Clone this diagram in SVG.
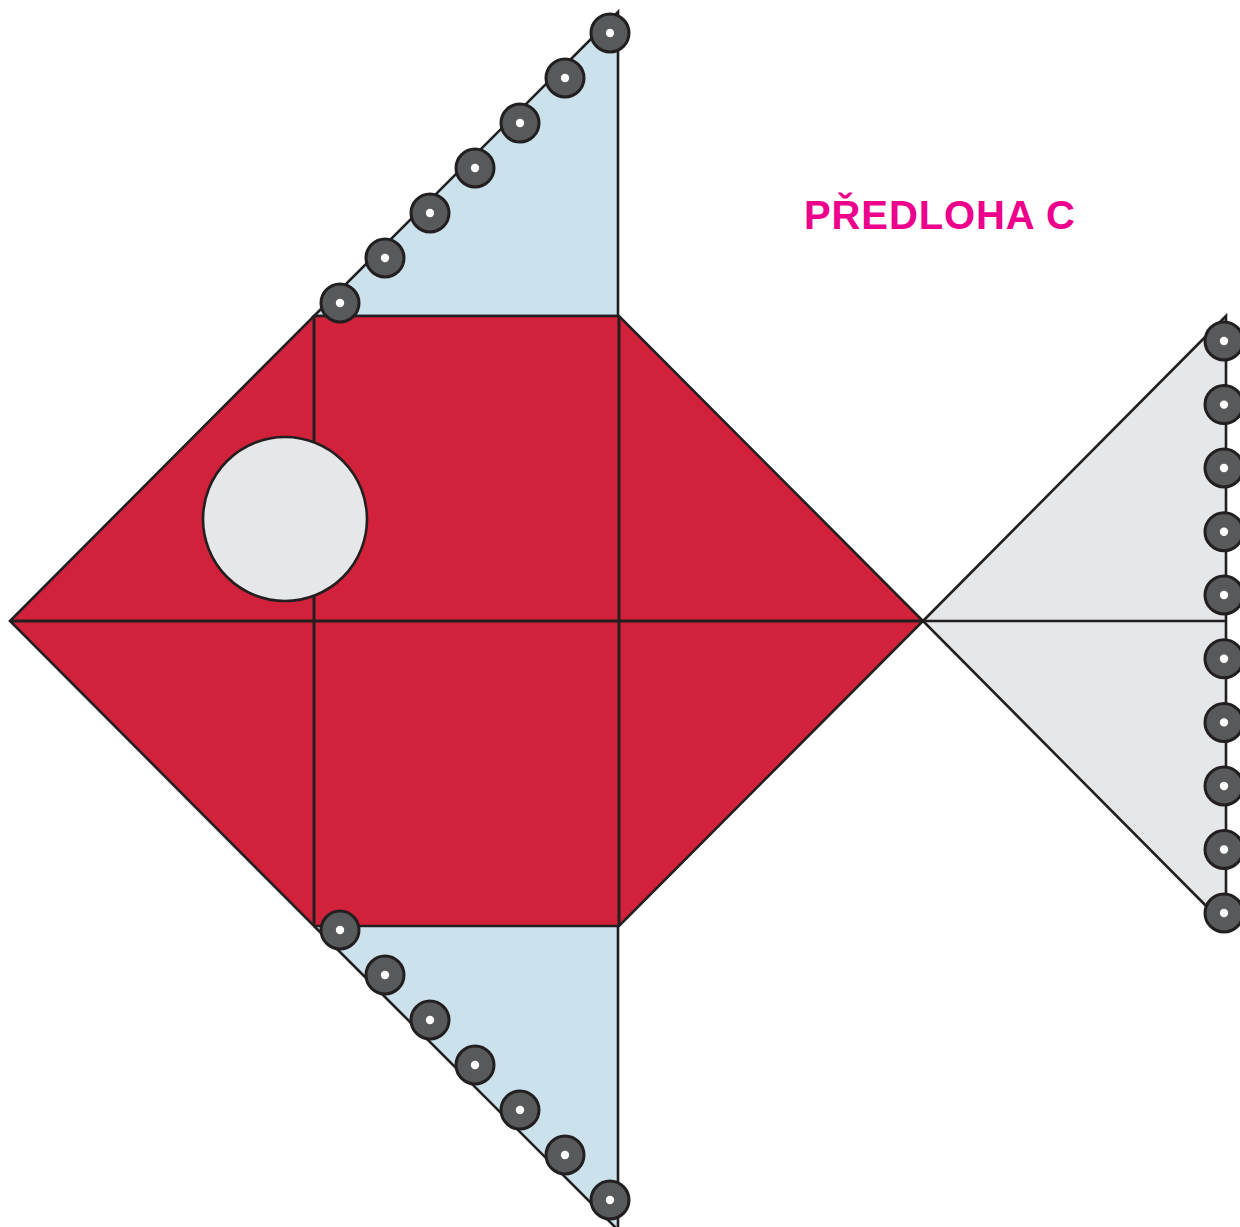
<svg xmlns="http://www.w3.org/2000/svg" width="1240" height="1227" viewBox="0 0 1240 1227">
<style>
.ln{stroke:#231f20;stroke-width:2.6;stroke-linejoin:miter;fill:none}
.red{fill:#d2213b}
.blue{fill:#cbe1ec}
.gray{fill:#e6e7e9}
.bead{fill:#58595b;stroke:#231f20;stroke-width:3}
.hole{fill:#ffffff}
.title{font-family:"Liberation Sans",Arial,sans-serif;font-weight:bold;font-size:40px;fill:#ec008c}
</style>
<defs>
<g id="b"><circle class="bead" cx="0" cy="0" r="19"/><circle class="hole" cx="0" cy="0" r="4.2"/></g>
</defs>
<rect width="1240" height="1227" fill="#ffffff"/>
<g id="top-fin">
<polygon class="blue" points="314,316 618,12 618,316"/>
<polygon class="ln" points="314,316 618,12 618,316"/>
</g>
<g id="bottom-fin">
<polygon class="blue" points="314,926 618,926 618,1230 "/>
<polyline class="ln" points="314,926 618,1230"/>
<polyline class="ln" points="618,926 618,1227"/>
</g>
<g id="tail">
<polygon class="gray" points="923,621 1226,316 1226,926"/>
<polygon class="ln" points="923,621 1226,316 1226,926"/>
<line class="ln" x1="923" y1="621" x2="1226" y2="621"/>
</g>
<g id="body">
<polygon class="red" points="10,621 314,316 619,316 923,621 619,926 314,926"/>
<polygon class="ln" points="10,621 314,316 619,316 923,621 619,926 314,926"/>
<line class="ln" x1="314" y1="316" x2="314" y2="926" style="stroke-width:3"/>
<line class="ln" x1="619" y1="316" x2="619" y2="926" style="stroke-width:3"/>
<line class="ln" x1="10" y1="621" x2="923" y2="621" style="stroke-width:3"/>
</g>
<g id="eye">
<circle cx="285" cy="519" r="82" fill="#e6e7e9" stroke="#231f20" stroke-width="2.6"/>
</g>
<g id="top-beads">
<use href="#b" x="340" y="303"/>
<use href="#b" x="385" y="258"/>
<use href="#b" x="430" y="213"/>
<use href="#b" x="475" y="168"/>
<use href="#b" x="520" y="123"/>
<use href="#b" x="565" y="78"/>
<use href="#b" x="610" y="33"/>
</g>
<g id="bottom-beads">
<use href="#b" x="340" y="930"/>
<use href="#b" x="385" y="975"/>
<use href="#b" x="430" y="1020"/>
<use href="#b" x="475" y="1065"/>
<use href="#b" x="520" y="1110"/>
<use href="#b" x="565" y="1155"/>
<use href="#b" x="610" y="1200"/>
</g>
<g id="tail-beads">
<use href="#b" x="1224" y="341"/>
<use href="#b" x="1224" y="404.6"/>
<use href="#b" x="1224" y="468"/>
<use href="#b" x="1224" y="531.7"/>
<use href="#b" x="1224" y="595"/>
<use href="#b" x="1224" y="658.8"/>
<use href="#b" x="1224" y="722.4"/>
<use href="#b" x="1224" y="786"/>
<use href="#b" x="1224" y="849.5"/>
<use href="#b" x="1224" y="913"/>
</g>
<text class="title" x="804" y="229" textLength="271" lengthAdjust="spacing">PŘEDLOHA C</text>
</svg>
